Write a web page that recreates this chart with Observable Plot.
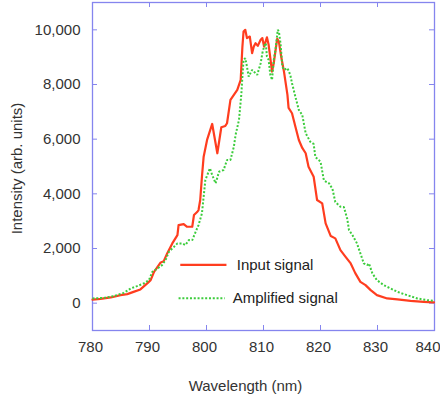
<!DOCTYPE html>
<html><head><meta charset="utf-8">
<script src="https://cdn.jsdelivr.net/npm/d3@7"></script>
<script src="https://cdn.jsdelivr.net/npm/@observablehq/plot@0.6"></script>
<style>body{margin:0;background:#fff;overflow:hidden}</style>
</head><body><div id="chart"></div>
<script>
// Input signal (nm, arb. units)
const inputWavelength = [780.0,781.4,783.2,784.9,786.1,787.2,788.4,789.6,790.2,790.8,791.9,792.5,793.1,794.0,794.9,795.1,796.0,796.6,797.5,797.8,798.4,798.6,798.9,799.2,799.5,800.1,801.0,801.9,802.6,803.3,803.6,804.2,804.8,805.4,806.0,806.3,806.5,806.8,807.1,807.6,808.0,808.3,808.6,809.0,809.5,809.8,810.1,810.6,810.9,811.5,811.8,812.4,812.7,813.1,813.6,814.2,814.4,815.0,815.6,816.2,816.8,817.4,817.9,818.8,819.4,820.3,820.9,821.8,822.6,823.5,824.4,825.3,826.1,827.0,827.9,828.8,829.9,831.7,833.5,835.8,838.1,839.9];
const inputIntensity = [128,158,209,293,330,414,502,722,842,1146,1476,1538,1820,2187,2491,2857,2894,2795,2795,3223,3344,3407,3773,4626,5359,5971,6557,5484,6436,6484,6582,7436,7619,7802,8168,9388,9938,10000,9696,9754,9147,9388,9513,9414,9634,9696,9388,9725,9451,8472,8780,9670,9571,9022,8461,7619,7143,6949,6458,5971,5678,5484,4993,4626,3773,3652,2919,2454,2370,1941,1696,1454,1099,780,659,476,293,172,136,84,48,26];
// Amplified signal (nm, arb. units)
const ampWavelength = [780.0,782.0,783.7,785.5,786.7,787.8,789.0,789.9,790.5,791.4,792.2,792.8,793.4,794.3,794.9,795.7,796.3,796.9,797.5,798.1,798.6,799.2,799.5,799.8,800.6,801.0,801.6,802.2,803.0,803.6,804.2,804.8,805.1,805.7,806.1,806.3,806.5,806.8,807.1,807.4,808.0,808.6,808.9,809.5,809.8,810.1,810.4,810.6,810.9,811.2,811.5,811.8,812.1,812.5,812.7,813.0,813.3,813.6,814.2,814.7,815.0,815.6,816.2,816.8,817.4,818.2,818.8,819.1,820.0,820.6,821.5,822.1,822.6,823.5,824.1,824.7,825.0,825.6,826.4,827.0,827.6,828.2,828.5,829.1,829.9,831.1,832.3,833.5,835.2,837.0,838.7,839.9];
const ampIntensity = [172,194,256,377,538,623,722,842,1146,1271,1392,1575,1879,2062,2187,2187,2125,2308,2308,2612,2857,3286,3894,4505,4934,4689,4385,4809,4872,5238,5238,5725,6154,6703,7619,8289,8901,8963,8656,8289,8535,8414,8352,8780,9147,9388,9513,9022,8901,8352,8168,8901,9267,10000,9938,9487,8656,8535,8597,8352,8048,7546,7070,6886,6216,5909,5824,5348,5176,4487,4385,4176,3700,3527,3516,3077,2674,2491,2187,1820,1454,1392,1454,1088,842,659,538,414,293,172,110,84];

const xTicks = [780,790,800,810,820,830,840];
const yTicks = [0,2000,4000,6000,8000,10000];
const seriesNames = ["Input signal","Amplified signal"];
const xLabel = "Wavelength (nm)";
const yLabel = "Intensity (arb. units)";

// layout & style
const W = 440, H = 401, mL = 92, mR = 6, mT = 2, mB = 71;
const innerW = W - mL - mR, innerH = H - mT - mB;
const frameColor = "#8585ee";
const redColor = "#ff3d1f";
const greenColor = "#3ccc3c";
const textColor = "#333";
const dots = "2,1.8";
const font = "'Liberation Sans', Arial, sans-serif";
// legend placement (data units)
const legendLine = [{x1: 795.4, x2: 803.5, y: 1400}, {x1: 795.1, x2: 803.2, y: 180}];
const legendTextX = [805.3, 804.6];

const input = inputWavelength.map((w, i) => ({w, v: inputIntensity[i]}));
const amp = ampWavelength.map((w, i) => ({w, v: ampIntensity[i]}));
const legend = seriesNames.map((name, i) => ({name, ...legendLine[i], tx: legendTextX[i]}));
const lastTick = xTicks[xTicks.length - 1];

const chart = Plot.plot({
  width: W, height: H,
  marginLeft: mL, marginRight: mR, marginTop: mT, marginBottom: mB,
  style: {fontFamily: font, fontSize: "15px", background: "#fff"},
  x: {domain: [780, 840]},
  y: {domain: [-1000, 11000]},
  marks: [
    Plot.frame({stroke: frameColor, strokeWidth: 1.3}),
    Plot.tickX(xTicks, {x: d => d, insetTop: innerH - 5, stroke: frameColor}),
    Plot.tickX(xTicks, {x: d => d, insetBottom: innerH - 5, stroke: frameColor}),
    Plot.tickY(yTicks, {y: d => d, insetRight: innerW - 5, stroke: frameColor}),
    Plot.tickY(yTicks, {y: d => d, insetLeft: innerW - 5, stroke: frameColor}),
    Plot.axisX(xTicks.filter(d => d !== lastTick), {tickSize: 0, tickPadding: 11, fontSize: 15, fill: textColor, label: null, dx: -2}),
    Plot.axisX([lastTick], {tickSize: 0, tickPadding: 11, fontSize: 15, fill: textColor, label: null, textAnchor: "end", dx: 6}),
    Plot.axisY(yTicks, {tickSize: 0, tickPadding: 12, fontSize: 15, fill: textColor, label: null, tickFormat: d3.format(",")}),
    Plot.text([yLabel], {frameAnchor: "left", textAnchor: "middle", rotate: -90, dx: -75, dy: 2, fontSize: 15, fill: textColor}),
    Plot.text([xLabel], {frameAnchor: "bottom", dy: 60, dx: -18, fontSize: 15, fill: textColor}),
    Plot.line(input, {x: "w", y: "v", stroke: redColor, strokeWidth: 2.2}),
    Plot.line(amp, {x: "w", y: "v", stroke: greenColor, strokeWidth: 2, strokeDasharray: dots, strokeLinecap: "butt", strokeLinejoin: "miter"}),
    Plot.link(legend.slice(0, 1), {x1: "x1", x2: "x2", y1: "y", y2: "y", stroke: redColor, strokeWidth: 2.2}),
    Plot.link(legend.slice(1), {x1: "x1", x2: "x2", y1: "y", y2: "y", stroke: greenColor, strokeWidth: 2, strokeDasharray: dots, strokeLinecap: "butt"}),
    Plot.text(legend, {x: "tx", y: "y", text: "name", textAnchor: "start", fontSize: 15, fill: "#222"})
  ]
});
document.getElementById("chart").append(chart);
</script>
</body></html>
